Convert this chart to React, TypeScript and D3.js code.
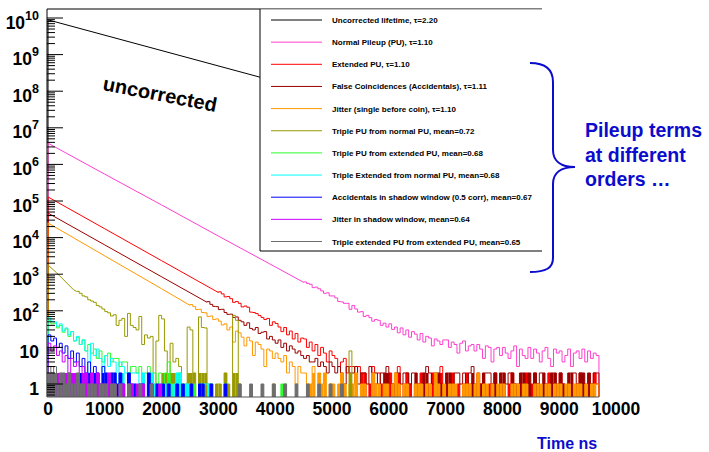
import React from "react";
import * as d3 from "d3";

// ---------- data ----------
const BIN_NS = 50;
const xTickValues = [0, 1000, 2000, 3000, 4000, 5000, 6000, 7000, 8000, 9000, 10000];
const yDecades = [0, 1, 2, 3, 4, 5, 6, 7, 8, 9, 10];

const legendLabels = [
  "Uncorrected lifetime, \u03c4=2.20",
  "Normal Pileup (PU), \u03c4=1.10",
  "Extended PU, \u03c4=1.10",
  "False Coincidences (Accidentals), \u03c4=1.11",
  "Jitter (single before coin), \u03c4=1.10",
  "Triple PU from normal PU, mean=0.72",
  "Triple PU from extended PU, mean=0.68",
  "Triple Extended from normal PU, mean=0.68",
  "Accidentals in shadow window (0.5 corr), mean=0.67",
  "Jitter in shadow window, mean=0.64",
  "Triple extended PU from extended PU, mean=0.65",
];
const seriesColors = [
  "#000000", "#ff3fcf", "#ff0000", "#9a0000", "#ff9900", "#999900",
  "#2bff2b", "#00ffff", "#0000ff", "#cc00ff", "#6e6e6e",
];

// smooth parts: [ns, counts]
const uncorrectedTrend: [number, number][] = [[0, 8.9e9], [4500, 1.15e8]];
const normalPuTrend: [number, number][] = [[0, 3.8e6], [1000, 5.4e5], [2000, 7.8e4], [3000, 1.1e4], [4000, 1.59e3], [4500, 600]];
const extendedPuTrend: [number, number][] = [[0, 1.29e5], [1000, 1.74e4], [2000, 2.34e3], [3000, 316]];
const falseCoinTrend: [number, number][] = [[0, 4.68e4], [1000, 6.3e3], [2000, 850], [2800, 171]];
const jitterTrend: [number, number][] = [[0, 2.51e4], [1000, 3.16e3], [2000, 400], [2500, 141]];
const tripleNormalTrend: [number, number][] = [[0, 1780], [150, 1100], [450, 375], [500, 340]];

// binned noisy parts (50 ns bins), with start ns
const normalPuStart = 4500;
const normalPuCounts = [
  615, 560, 530, 430, 445, 400, 350, 300, 310, 255,
  255, 225, 180, 175, 160, 160, 110, 140, 112, 92,
  95, 70, 75, 65, 52, 58, 55, 40, 46, 36,
  44, 31, 36, 25, 34, 22, 30, 19, 27, 23,
  16, 24, 14, 20, 18, 11, 17, 15, 12, 16,
  16, 10, 14, 12, 7, 13, 15, 8, 11, 12,
  8, 12, 9, 5, 11, 10, 4, 9, 10, 6,
  10, 7, 5, 8, 11, 3, 9, 6, 5, 10,
  5, 9, 7, 4, 8, 10, 5, 3, 9, 7,
  8, 4, 6, 9, 3, 7, 8, 5, 9, 4,
  8, 5, 7, 6,
];
const extendedPuStart = 3000;
const extendedPuCounts = [
  330, 290, 240, 245, 215, 170, 180, 160, 128, 135,
  125, 92, 90, 84, 74, 66, 58, 62, 40, 50,
  45, 36, 27, 35, 22, 28, 17, 24, 14, 18,
  17, 10, 14, 8, 12, 6, 10, 7, 4, 8,
  6, 5, 3, 4, 5, 2, 3, 3, 1, 3,
  2, 2, 0, 1, 3, 1, 2, 1, 1, 0,
  2, 1, 1, 3, 0, 1, 2, 1, 0, 1,
  1, 2, 0, 0, 1, 2, 1, 1, 3, 0,
  1, 1, 2, 0, 1, 0, 1, 2, 1, 1,
  0, 2, 1, 1, 0, 1, 1, 2, 0, 1,
  1, 0, 1, 2, 1, 1, 0, 1, 2, 0,
  1, 2, 1, 0, 0, 1, 2, 1, 1, 0,
  2, 1, 0, 1, 1, 0, 1, 2, 1, 1,
  0, 1, 2, 1,
];
const falseCoinStart = 2800;
const falseCoinCounts = [
  178, 150, 132, 130, 108, 110, 90, 80, 81, 66,
  68, 55, 50, 40, 47, 33, 30, 35, 24, 26,
  27, 17, 20, 16, 13, 16, 10, 13, 8, 11,
  9, 7, 8, 6, 5, 6, 4, 4, 5, 3,
  4, 3, 2, 4, 3, 2, 3, 2, 1, 3,
  2, 2, 3, 1, 2, 2, 1, 3, 2, 2,
  1, 2, 2, 3, 0, 1, 2, 2, 1, 2,
  2, 1, 2, 2, 1, 0, 2, 3, 2, 1,
  2, 2, 1, 0, 2, 2, 1, 2, 2, 1,
  2, 1, 2, 3, 1, 0, 1, 2, 2, 2,
  1, 2, 0, 2, 2, 1, 2, 2, 1, 0,
  2, 2, 1, 2, 0, 2, 1, 2, 2, 1,
  0, 2, 2, 1, 2, 1, 0, 2, 2, 2,
  1, 2, 2, 0, 2, 1, 2, 2,
];
const jitterStart = 2500;
const jitterCounts = [
  148, 130, 108, 110, 90, 88, 70, 72, 58, 60,
  52, 41, 44, 30, 36, 14, 28, 25, 19, 11,
  19, 15, 6, 14, 12, 9, 3, 9, 8, 5,
  7, 5, 4, 6, 2, 4, 3, 1, 3, 2,
  2, 1, 1, 3, 0, 2, 1, 2, 0, 1,
  1, 0, 1, 2, 1, 0, 1, 1, 2, 0,
  1, 1, 0, 0, 2, 1, 1, 0, 1, 1,
  0, 1, 2, 1, 0, 1, 1, 0, 0, 1,
  1, 1, 0, 1, 1, 0, 2, 1, 0, 1,
  0, 1, 1, 1, 0, 0, 1, 1, 1, 0,
  1, 2, 0, 1, 1, 0, 1, 0, 1, 1,
  1, 0, 0, 1, 1, 1, 0, 1, 1, 0,
  0, 1, 1, 1, 0, 1, 1, 0, 1, 1,
  1, 0, 1, 1, 0, 1, 1, 1, 0, 1,
  0, 1, 1, 1,
];
const tripleNormalStart = 500;
const tripleNormalCounts = [
  340, 300, 255, 240, 200, 185, 170, 140, 128, 112,
  95, 88, 72, 78, 40, 55, 62, 20, 85, 40,
  35, 30, 70, 12, 22, 18, 20, 1, 15, 75,
  60, 8, 0, 13, 4, 5, 3, 0, 1, 36,
  30, 2, 0, 68, 35, 34, 1, 0, 0, 1,
  1, 0, 2, 1, 0, 75, 55, 1, 0, 0,
  0, 0, 0, 0, 0, 0, 0, 0, 0, 1,
  0, 0, 0, 0, 0, 0, 0, 0, 0, 0,
  0, 0, 0, 0, 0, 0, 0, 0, 0, 0,
  0, 0, 0, 0, 0, 0, 8,
];
const tripleExtStart = 0;
const tripleExtCounts = [
  54, 44, 46, 34, 40, 26, 32, 20, 27, 15,
  19, 12, 16, 8, 12, 7, 9, 5, 8, 4,
  6, 7, 4, 5, 5, 3, 4, 4, 2, 3,
  3, 2, 3, 1, 2, 3, 1, 2, 1, 2,
  1, 2, 4, 1, 0, 1, 2, 1, 0, 1,
  0, 1, 0, 0, 1, 0, 0, 1, 0, 0,
  0, 0, 1, 0, 0, 0, 0, 0, 0, 0,
  0, 0, 0, 0, 0, 0, 0, 0, 0, 0,
  0, 0, 1, 1,
];
const tripleExtNormalStart = 0;
const tripleExtNormalCounts = [
  64, 52, 50, 38, 44, 28, 34, 22, 27, 15,
  20, 12, 16, 8, 2, 13, 6, 9, 5, 1,
  6, 3, 5, 4, 0, 4, 3, 2, 2, 2,
  2, 2, 1, 2, 0, 1, 2, 1, 0, 1,
  0, 1, 1, 0, 1, 2, 2, 0, 1, 1,
  0, 0, 0, 1, 1, 1, 1, 1, 0, 0,
];
const accShadowStart = 0;
const accShadowCounts = [
  22, 15, 18, 10, 13, 7, 11, 5, 8, 4,
  7, 3, 5, 2, 4, 1, 3, 2, 1, 3,
  2, 1, 2, 2, 1, 2, 1, 0, 2, 1,
  1, 0, 1, 1, 0, 2, 1, 0, 1, 0,
  1, 0, 1, 0, 0, 1, 0, 1, 0, 0,
  1, 0, 0, 1, 1, 0, 0, 1, 0, 0,
  0, 0, 1,
];
const jitterShadowStart = 0;
const jitterShadowCounts = [
  13, 8, 11, 6, 8, 4, 6, 2, 5, 3,
  4, 1, 3, 2, 1, 2, 0, 2, 1, 1,
  1, 2, 1, 1, 0, 1, 1, 0, 1, 1,
  0, 1, 0, 1, 0, 0, 1, 0, 0, 1,
];
const tripleExtExtStart = 0;
const tripleExtExtCounts = [
  3, 2, 3, 1, 2, 2, 1, 2, 1, 1,
  2, 1, 1, 0, 1, 1, 1, 0, 1, 1,
  1, 0, 1, 1, 0, 1, 0, 0, 1, 0,
  0, 0, 1, 0, 0, 0, 1, 0, 0, 0,
  0, 0, 0, 0, 0, 0, 0, 0, 0, 0,
  0, 0, 0, 0, 0, 0, 0, 0, 0, 0,
  0, 0, 0, 0, 0, 0, 0, 1, 0, 0,
  0, 1, 0, 0, 0, 1, 0, 0, 0, 1,
  0, 0, 0, 1, 0, 0, 0, 1, 0, 0,
  0, 1, 0, 0, 0, 1, 0, 0, 0, 1,
  0, 0, 0, 1,
];

const annotationLines = ["Pileup terms", "at different", "orders \u2026"];

// fill mode: 0 none, 1 fill where sparse (zero bins nearby), 2 always (low band)
type Series = {
  trend: [number, number][];
  start: number;
  counts: number[];
  fill: number;
};

const series: Series[] = [
  { trend: uncorrectedTrend, start: 0, counts: [], fill: 0 },
  { trend: normalPuTrend, start: normalPuStart, counts: normalPuCounts, fill: 0 },
  { trend: extendedPuTrend, start: extendedPuStart, counts: extendedPuCounts, fill: 1 },
  { trend: falseCoinTrend, start: falseCoinStart, counts: falseCoinCounts, fill: 1 },
  { trend: jitterTrend, start: jitterStart, counts: jitterCounts, fill: 1 },
  { trend: tripleNormalTrend, start: tripleNormalStart, counts: tripleNormalCounts, fill: 1 },
  { trend: [], start: tripleExtStart, counts: tripleExtCounts, fill: 1 },
  { trend: [], start: tripleExtNormalStart, counts: tripleExtNormalCounts, fill: 1 },
  { trend: [], start: accShadowStart, counts: accShadowCounts, fill: 2 },
  { trend: [], start: jitterShadowStart, counts: jitterShadowCounts, fill: 2 },
  { trend: [], start: tripleExtExtStart, counts: tripleExtExtCounts, fill: 2 },
];

// ---------- layout ----------
const W = 709;
const H = 452;
const FRAME_TOP = 9;
const FRAME_BOTTOM = 397;
const FRAME_LEFT = 47;
const AXIS_END_NS = 9700;
const FONT = "'Liberation Sans', Arial, Helvetica, sans-serif";
const BLUE = "#0c0ccc";

const xScale = d3.scaleLinear().domain([0, 10000]).range([48, 616]);
const yScale = d3.scaleLog().domain([1, 1e10]).range([384, 18]);

const yv = (v: number) => (v > 0 ? yScale(v) : FRAME_BOTTOM + 2);

function buildPoints(s: Series): [number, number][] {
  const pts: [number, number][] = [];
  const t0 = s.trend.length ? s.trend[0][0] : s.start;
  pts.push([xScale(t0), FRAME_BOTTOM + 2]);
  s.trend.forEach(([t, v]) => pts.push([xScale(t), yv(v)]));
  s.counts.forEach((c, i) => {
    const a = s.start + i * BIN_NS;
    pts.push([xScale(a), yv(c)], [xScale(a + BIN_NS), yv(c)]);
  });
  if (s.counts.length) {
    pts.push([xScale(s.start + s.counts.length * BIN_NS), FRAME_BOTTOM + 2]);
  }
  return pts;
}

function fillBins(s: Series) {
  if (!s.fill) return [];
  const out: { x: number; w: number; y: number }[] = [];
  s.counts.forEach((c, i) => {
    if (c <= 0) return;
    let ok = s.fill === 2;
    for (let j = Math.max(0, i - 2); j <= Math.min(s.counts.length - 1, i + 2); j++) {
      if (s.counts[j] <= 0) ok = true;
    }
    if (!ok) return;
    const a = s.start + i * BIN_NS;
    out.push({ x: xScale(a), w: xScale(a + BIN_NS) - xScale(a), y: yScale(Math.min(c, 2)) });
  });
  return out;
}

const lineGen = d3.line<[number, number]>();

export default function App() {
  const minorTicks: number[] = [];
  for (let k = -1; k < 10; k++) {
    for (let m = 2; m <= 9; m++) {
      const y = yScale(m * Math.pow(10, k));
      if (y > FRAME_TOP && y < FRAME_BOTTOM) minorTicks.push(y);
    }
  }
  const legendRowY = (i: number) => 20 + i * 22.15;

  return (
    <svg width={W} height={H} style={{ position: "absolute", left: 0, top: 0, background: "#fff" }}
      fontFamily={FONT}>
      <defs>
        <clipPath id="plotClip">
          <rect x={FRAME_LEFT} y={FRAME_TOP} width={xScale(10000) - FRAME_LEFT} height={FRAME_BOTTOM - FRAME_TOP} />
        </clipPath>
      </defs>
      <rect x={0} y={0} width={W} height={H} fill="#fff" />

      <line x1={FRAME_LEFT} x2={FRAME_LEFT} y1={FRAME_TOP} y2={FRAME_BOTTOM} stroke="#000" strokeWidth={1} />

      {/* histograms */}
      <g clipPath="url(#plotClip)">
        {series.map((s, si) => (
          <g key={si}>
            {fillBins(s).map((b, bi) => (
              <rect key={bi} x={b.x} y={b.y} width={b.w} height={FRAME_BOTTOM - b.y} fill={seriesColors[si]} />
            ))}
            <path d={lineGen(buildPoints(s)) || ""} fill="none" stroke={seriesColors[si]} strokeWidth={1} />
          </g>
        ))}
      </g>

      <line x1={FRAME_LEFT} x2={xScale(AXIS_END_NS)} y1={FRAME_BOTTOM} y2={FRAME_BOTTOM} stroke="#555" strokeWidth={1} />

      {/* y ticks */}
      {yDecades.map((k) => (
        <line key={"M" + k} x1={FRAME_LEFT} x2={FRAME_LEFT + 16} y1={yScale(Math.pow(10, k))} y2={yScale(Math.pow(10, k))}
          stroke="#000" strokeWidth={1} />
      ))}
      {minorTicks.map((y, i) => (
        <line key={"m" + i} x1={FRAME_LEFT} x2={FRAME_LEFT + 8} y1={y} y2={y} stroke="#000" strokeWidth={1} />
      ))}

      {/* y labels */}
      {yDecades.map((k) => {
        const y = yScale(Math.pow(10, k)) + 10.5;
        if (k === 0 || k === 1) {
          return (
            <text key={"yl" + k} x={39} y={y} textAnchor="end" fontSize={17.5} fontWeight="bold">
              {k === 0 ? "1" : "10"}
            </text>
          );
        }
        return (
          <text key={"yl" + k} x={39} y={y} textAnchor="end" fontSize={17.5} fontWeight="bold">
            <tspan>10</tspan>
            <tspan dy={-9} fontSize={12.5}>{String(k)}</tspan>
          </text>
        );
      })}

      {/* x labels */}
      {xTickValues.map((t) => (
        <text key={"xl" + t} x={xScale(t)} y={415} textAnchor="middle" fontSize={17.5} fontWeight="bold">
          {String(t)}
        </text>
      ))}

      <line x1={FRAME_LEFT} x2={542} y1={FRAME_TOP} y2={FRAME_TOP} stroke="#000" strokeWidth={1} />

      {/* legend */}
      <rect x={260} y={FRAME_TOP + 0.5} width={282} height={251 - FRAME_TOP - 0.5} fill="#fff" />
      <line x1={260} x2={260} y1={FRAME_TOP} y2={251} stroke="#000" strokeWidth={1} />
      <line x1={260} x2={542} y1={251} y2={251} stroke="#000" strokeWidth={1} />
      {legendLabels.map((lab, i) => (
        <g key={"lg" + i}>
          <line x1={271} x2={322} y1={legendRowY(i)} y2={legendRowY(i)} stroke={seriesColors[i]} strokeWidth={1} />
          <text x={332} y={legendRowY(i) + 3} fontSize={8} fontWeight="bold" fill="#000">{lab}</text>
        </g>
      ))}

      {/* annotations */}
      <text x={102} y={90} transform="rotate(11,102,90)" fontSize={20} fontWeight="bold" fill="#000">uncorrected</text>

      <path d="M530,63 C546,63 553,70 553,82 L553,150 C553,161 561,167 575,167 C561,167 553,173 553,184 L553,258 C553,268 546,272 530,272"
        fill="none" stroke={BLUE} strokeWidth={2} />
      {annotationLines.map((l, i) => (
        <text key={"an" + i} x={585} y={137 + i * 24.5} fontSize={19.5} fontWeight="bold" fill={BLUE}>{l}</text>
      ))}
      <text x={537} y={449} fontSize={16} fontWeight="bold" fill={BLUE}>Time ns</text>
    </svg>
  );
}
